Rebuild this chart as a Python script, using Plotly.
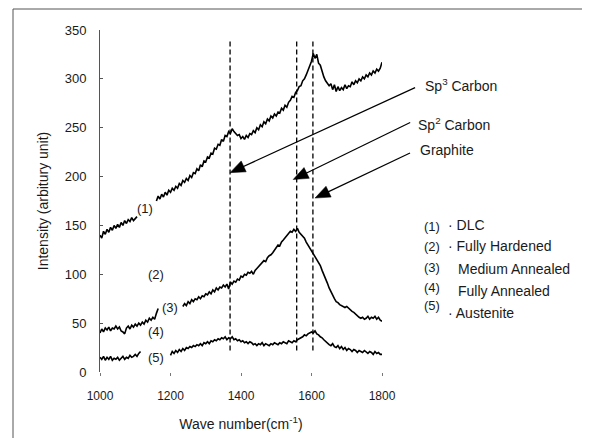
import math
import plotly.graph_objects as go

# ---- data ----
wave = list(range(1000, 1805, 5))   # sampling grid, cm-1

dlc_y = [140,137,144,141,146,143,148,145,150,147,
         151,148,153,150,155,152,156,154,158,155,
         157,159,
         None,None,None,None,None,None,None,None,None,None,
         175,180,177,182,179,184,181,186,184,188,
         186,190,188,193,191,196,194,198,196,201,
         199,204,203,208,206,212,210,216,215,220,
         219,224,223,229,228,233,232,238,236,242,
         241,246,244,249,246,244,242,243,239,241,
         238,242,240,244,243,247,245,250,248,253,
         251,256,254,259,257,262,260,264,262,266,
         265,270,268,273,271,276,278,282,281,286,
         288,292,293,298,300,304,309,315,318,326,
         321,325,316,314,307,302,298,296,293,295,
         289,294,287,292,288,291,289,294,290,293,
         292,297,294,298,296,300,298,302,300,304,
         302,306,304,308,306,310,308,311,317]

med_y = [40,44,41,45,43,46,42,45,44,47,
         44,46,42,41,39,45,47,44,48,46,
         49,47,50,48,51,49,53,51,55,53,
         56,54,60,65,
         None,None,None,None,None,None,None,None,None,None,None,None,None,
         67,70,68,72,70,74,72,75,74,77,
         75,78,77,80,79,82,80,84,82,86,
         84,87,86,89,87,90,85,92,90,93,
         92,95,94,98,97,100,99,102,101,103,
         100,104,106,108,110,112,114,113,117,119,
         120,122,125,127,130,129,133,135,137,140,
         142,144,143,146,144,147,143,141,139,137,
         133,130,127,125,122,119,116,113,109,104,
         100,96,91,86,82,78,75,72,71,69,
         68,67,66,67,65,64,62,61,59,58,
         56,55,56,54,55,57,54,56,55,57,
         54,56,53,52]

aus_y = [15,13,16,12,15,13,16,12,14,13,
         15,12,14,16,13,15,14,17,15,16,
         18,16,19,21,
         None,None,None,None,None,None,None,None,None,None,None,None,None,None,None,None,
         17,21,19,22,20,23,21,24,22,25,
         24,26,25,27,26,28,27,29,27,30,
         29,31,29,32,31,33,32,34,33,35,
         34,36,33,35,34,36,33,34,32,33,
         31,32,30,31,29,31,30,28,29,27,
         29,28,30,27,29,28,27,29,28,30,
         29,28,30,29,31,30,29,32,31,30,
         32,31,33,34,35,36,38,37,39,40,
         41,40,42,39,38,36,35,33,31,29,
         28,27,29,26,25,27,24,26,23,25,
         22,24,23,21,23,22,20,22,21,20,
         22,20,19,21,20,18,21,19,20,18,
         18]

peak_lines = [1369, 1558, 1604]        # dashed marker positions (cm-1)
peak_line_span = [22, 341]             # vertical extent (intensity)

curve_labels = ["(1)", "(2)", "(3)", "(4)", "(5)"]
curve_label_x = [1128, 1160, 1198, 1160, 1160]
curve_label_y = [167, 100, 66, 41, 15]

arrow_names = ["Sp<sup>3</sup> Carbon", "Sp<sup>2</sup> Carbon", "Graphite"]
arrow_tip_x = [1369, 1548, 1610]
arrow_tip_y = [204, 197, 178]

legend_nums = ["(1)", "(2)", "(3)", "(4)", "(5)"]
legend_names = ["\u00b7 DLC", "\u00b7 Fully Hardened", "Medium Annealed", "Fully Annealed", "\u00b7 Austenite"]

x_ticks = [1000, 1200, 1400, 1600, 1800]
y_ticks = [0, 50, 100, 150, 200, 250, 300, 350]
x_range = [1000, 1800]
y_range = [0, 350]

FONT = "Liberation Sans, Arial, sans-serif"
INK = "#1a1a1a"

fig = go.Figure()
for ys in (dlc_y, med_y, aus_y):
    fig.add_trace(go.Scatter(x=wave, y=ys, mode="lines", connectgaps=False,
                             line=dict(color="black", width=1.6), showlegend=False,
                             hoverinfo="skip"))

for px in peak_lines:
    fig.add_shape(type="line", xref="x", yref="y", x0=px, x1=px,
                  y0=peak_line_span[0], y1=peak_line_span[1],
                  line=dict(color="black", width=1.3, dash="5px,3px"))

# frame around the figure
frame = dict(color="#555555", width=1)
fig.add_shape(type="line", xref="paper", yref="paper", x0=-0.3085, x1=-0.3085, y0=-0.3, y1=1.0614, line=frame)
fig.add_shape(type="line", xref="paper", yref="paper", x0=-0.3085, x1=1.75, y0=1.0614, y1=1.0614, line=frame)
fig.add_shape(type="line", xref="paper", yref="paper", x0=1.7305, x1=1.7305, y0=-0.3, y1=1.0614, line=frame)

# arrows: tip at the data point, tail offset in pixels (right, up)
tails = [(185, 85), (117, 57), (95, 45)]
HEAD_L, HEAD_W = 15, 6
for (dx, dy), tx, ty in zip(tails, arrow_tip_x, arrow_tip_y):
    fx = (tx - x_range[0]) / (x_range[1] - x_range[0])
    fy = (ty - y_range[0]) / (y_range[1] - y_range[0])
    d = math.hypot(dx, dy)
    ux, uy = dx / d, dy / d
    nx, ny = -uy, ux
    bx, by = HEAD_L * ux, HEAD_L * uy
    common = dict(xref="paper", yref="paper", xsizemode="pixel", ysizemode="pixel",
                  xanchor=fx, yanchor=fy)
    fig.add_shape(type="line", x0=bx * 0.5, y0=by * 0.5, x1=dx, y1=dy,
                  line=dict(color="black", width=1.2), **common)
    path = "M0,0 L{:.2f},{:.2f} L{:.2f},{:.2f} Z".format(
        bx + HEAD_W * nx, by + HEAD_W * ny, bx - HEAD_W * nx, by - HEAD_W * ny)
    fig.add_shape(type="path", path=path, fillcolor="black",
                  line=dict(color="black", width=0.5), **common)

ann = []
for t, x, y in zip(curve_labels, curve_label_x, curve_label_y):
    ann.append(dict(x=x, y=y, xref="x", yref="y", text=t, showarrow=False,
                    font=dict(family=FONT, size=13, color=INK)))

name_pos = [(1.1454, 0.8392), (1.1206, 0.7251), (1.1277, 0.6491)]
for t, (x, y) in zip(arrow_names, name_pos):
    ann.append(dict(x=x, y=y, xref="paper", yref="paper", text=t, showarrow=False,
                    xanchor="left", yanchor="middle",
                    font=dict(family=FONT, size=14, color=INK)))

num_y = [0.4240, 0.3655, 0.3070, 0.2485, 0.1930]
for t, y in zip(legend_nums, num_y):
    ann.append(dict(x=1.1418, y=y, xref="paper", yref="paper", text=t, showarrow=False,
                    xanchor="left", yanchor="middle",
                    font=dict(family=FONT, size=13, color=INK)))
name_x = [1.227, 1.227, 1.2624, 1.2624, 1.227]
name_y = [0.4298, 0.3684, 0.3012, 0.2368, 0.1725]
for t, x, y in zip(legend_names, name_x, name_y):
    ann.append(dict(x=x, y=y, xref="paper", yref="paper", text=t, showarrow=False,
                    xanchor="left", yanchor="middle",
                    font=dict(family=FONT, size=14, color=INK)))

fig.update_layout(
    width=590, height=438,
    margin=dict(l=92, r=216, t=22, b=74, autoexpand=False),
    paper_bgcolor="white", plot_bgcolor="white",
    font=dict(family=FONT, color=INK),
    annotations=ann,
    xaxis=dict(range=x_range, tickvals=x_ticks, showgrid=False, zeroline=False,
               showline=False, ticks="outside", ticklen=3, tickcolor="#777777",
               tickfont=dict(size=12, family=FONT, color=INK), ticklabelstandoff=10,
               title=dict(text="Wave number(cm<sup>-1</sup>)", standoff=16,
                          font=dict(size=14, family=FONT, color=INK))),
    yaxis=dict(range=y_range, tickvals=y_ticks, showgrid=False, zeroline=False,
               showline=True, linecolor="#555555", linewidth=1,
               ticks="inside", ticklen=3, tickcolor="#555555",
               tickfont=dict(size=13, family=FONT, color=INK), ticklabelstandoff=10,
               title=dict(text="Intensity (arbitury unit)", standoff=12,
                          font=dict(size=14, family=FONT, color=INK))),
)

fig.write_html("out.html")
